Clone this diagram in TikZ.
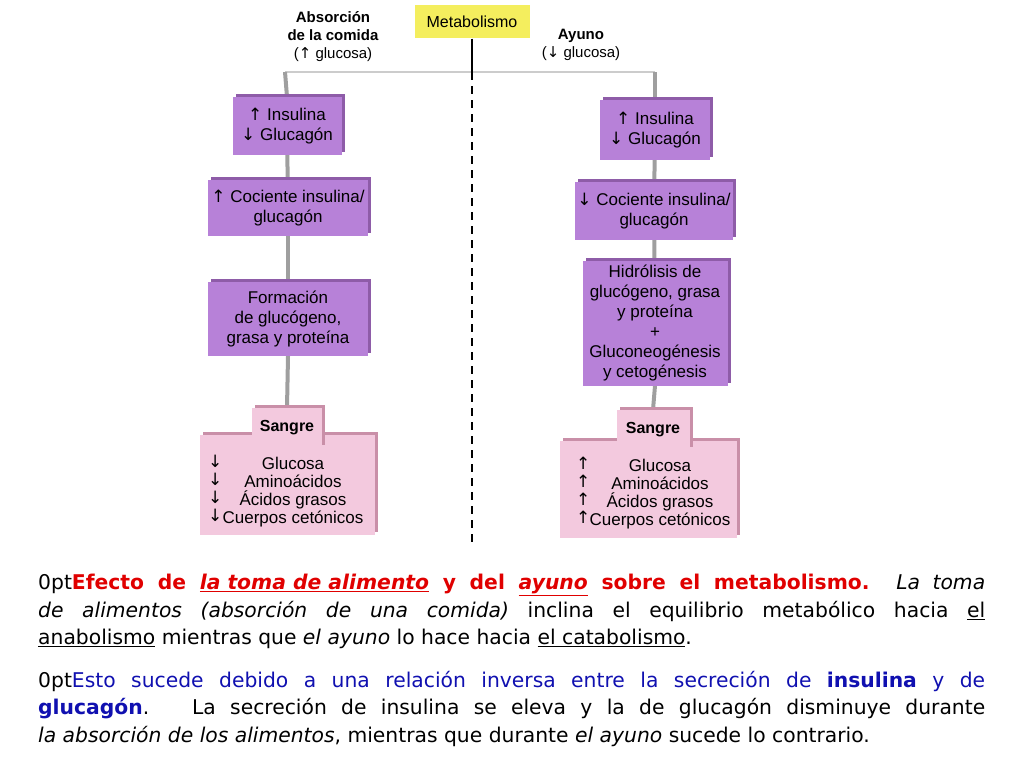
\documentclass[tikz,border=0pt]{standalone}
\usepackage{fontspec}
\setmainfont{Liberation Sans}
\newfontfamily\arr{DejaVu Sans}
\newfontfamily\verd{DejaVu Sans}
\usetikzlibrary{shadows,backgrounds}
\definecolor{boxp}{HTML}{B781D8}
\definecolor{boxpd}{HTML}{8E5CA8}
\definecolor{pinkb}{HTML}{F3C9DE}
\definecolor{pinkd}{HTML}{C98FA8}
\definecolor{ylw}{HTML}{F4EE5E}
\definecolor{redt}{HTML}{E00000}
\definecolor{bluet}{HTML}{1010B0}
\newcommand\up{{\arr\char"2191}}
\newcommand\dn{{\arr\char"2193}}
\begin{document}
\begin{tikzpicture}[x=1pt,y=-1pt,
 pb/.style={fill=boxp,inner sep=0pt,align=center,font=\fontsize{17}{20}\selectfont,
   general shadow={fill=boxpd,shadow xshift=3pt,shadow yshift=3pt}},
 sb/.style={fill=pinkb,inner sep=0pt,align=center,font=\fontsize{17}{18}\selectfont,
   general shadow={fill=pinkd,shadow xshift=3pt,shadow yshift=3pt}},
 conn/.style={draw=gray!75,line width=4pt},
 hdr/.style={font=\fontsize{15}{18}\selectfont,align=center}]
\useasboundingbox (0,0) rectangle (1024,768);
\node[fill=ylw,minimum width=115pt,minimum height=33pt,inner sep=0pt,font=\fontsize{16}{18}\selectfont] (met) at (472,22) {Metabolismo};
\node[hdr] (absl) at (333,37) {\textbf{Absorción}\\\textbf{de la comida}\\(\up\ glucosa)};
\node[hdr] (ayl) at (581,45) {\textbf{Ayuno}\\(\dn\ glucosa)};
\coordinate (split) at (472,72);
\coordinate (hl) at (285,72);
\coordinate (hr) at (655,72);
\coordinate (dend) at (472,545);
% left
\node[pb,minimum width=109pt,minimum height=58pt] (l1) at (287,126) {\up\ Insulina\\\dn\ Glucagón};
\node[pb,minimum width=160pt,minimum height=56pt] (l2) at (288,208) {\up\ Cociente insulina/\\glucagón};
\node[pb,minimum width=160pt,minimum height=74pt] (l3) at (288,319) {Formación\\de glucógeno,\\grasa y proteína};
\node[sb,minimum width=175pt,minimum height=100pt] (l4) at (287,485) {};
\node[sb,minimum width=70pt,minimum height=40pt,font=\fontsize{16}{18}\selectfont\bfseries] (l4t) at (287,428) {Sangre};
\node[font=\fontsize{17}{18}\selectfont,align=left,anchor=north west,inner sep=0pt] (l4a) at (208,455) {\dn\\\dn\\\dn\\\dn};
\node[font=\fontsize{17}{18}\selectfont,align=center] (l4x) at (293,492) {Glucosa\\Aminoácidos\\Ácidos grasos\\Cuerpos cetónicos};
% right
\node[pb,minimum width=110pt,minimum height=60pt] (r1) at (655,130) {\up\ Insulina\\\dn\ Glucagón};
\node[pb,minimum width=158pt,minimum height=58pt] (r2) at (654,211) {\dn\ Cociente insulina/\\glucagón};
\node[pb,minimum width=145pt,minimum height=125pt] (r3) at (655,323) {Hidrólisis de\\glucógeno, grasa\\y proteína\\+\\Gluconeogénesis\\y cetogénesis};
\node[sb,minimum width=177pt,minimum height=97pt] (r4) at (648,489) {};
\node[sb,minimum width=73pt,minimum height=40pt,font=\fontsize{16}{18}\selectfont\bfseries] (r4t) at (653,430) {Sangre};
\node[font=\fontsize{17}{18}\selectfont,align=left,anchor=north west,inner sep=0pt] (r4a) at (576,457) {\up\\\up\\\up\\\up};
\node[font=\fontsize{17}{18}\selectfont,align=center] (r4x) at (660,494) {Glucosa\\Aminoácidos\\Ácidos grasos\\Cuerpos cetónicos};
\begin{scope}[on background layer]
\draw[gray!40,line width=2pt] (hl) -- (hr);
\draw[conn] (hl) -- (l1.north);
\draw[conn] (l1) -- (l2);
\draw[conn] (l2) -- (l3);
\draw[conn] (l3.south) -- (l4t.north);
\draw[conn] (hr) -- (r1.north);
\draw[conn] (r1) -- (r2);
\draw[conn] (r2) -- (r3);
\draw[conn] (r3.south) -- (r4t.north);
\end{scope}
\draw[line width=1.5pt] (met.south) -- (split);
\draw[line width=1.5pt,dash pattern=on 8pt off 6pt] (split) -- (dend);
% text
\node[anchor=north west,text width=947pt,align=justify,inner sep=0pt,
  font=\verd\fontsize{20.3}{27.5}\selectfont\hyphenpenalty=10000\relax] (p1) at (38,574)
 {\textcolor{redt}{\textbf{Efecto de \underline{\textit{la toma de alimento}} y del \underline{\textit{ayuno}} sobre el metabolismo.}} \textit{La toma}\linebreak \textit{de alimentos (absorción de una comida)} inclina el equilibrio metabólico hacia \underline{el}\linebreak \underline{anabolismo} mientras que \textit{el ayuno} lo hace hacia \underline{el catabolismo}.\par};
\node[anchor=north west,text width=947pt,align=justify,inner sep=0pt,
  font=\verd\fontsize{20.3}{27.5}\selectfont\hyphenpenalty=10000\relax] (p2) at (38,671)
 {\textcolor{bluet}{Esto sucede debido a una relación inversa entre la secreción de \textbf{insulina} y de}\linebreak \textcolor{bluet}{\textbf{glucagón}}.\ \ \ La secreción de insulina se eleva y la de glucagón disminuye durante\linebreak \textit{la absorción de los alimentos}, mientras que durante \textit{el ayuno} sucede lo contrario.\par};
\end{tikzpicture}
\end{document}
